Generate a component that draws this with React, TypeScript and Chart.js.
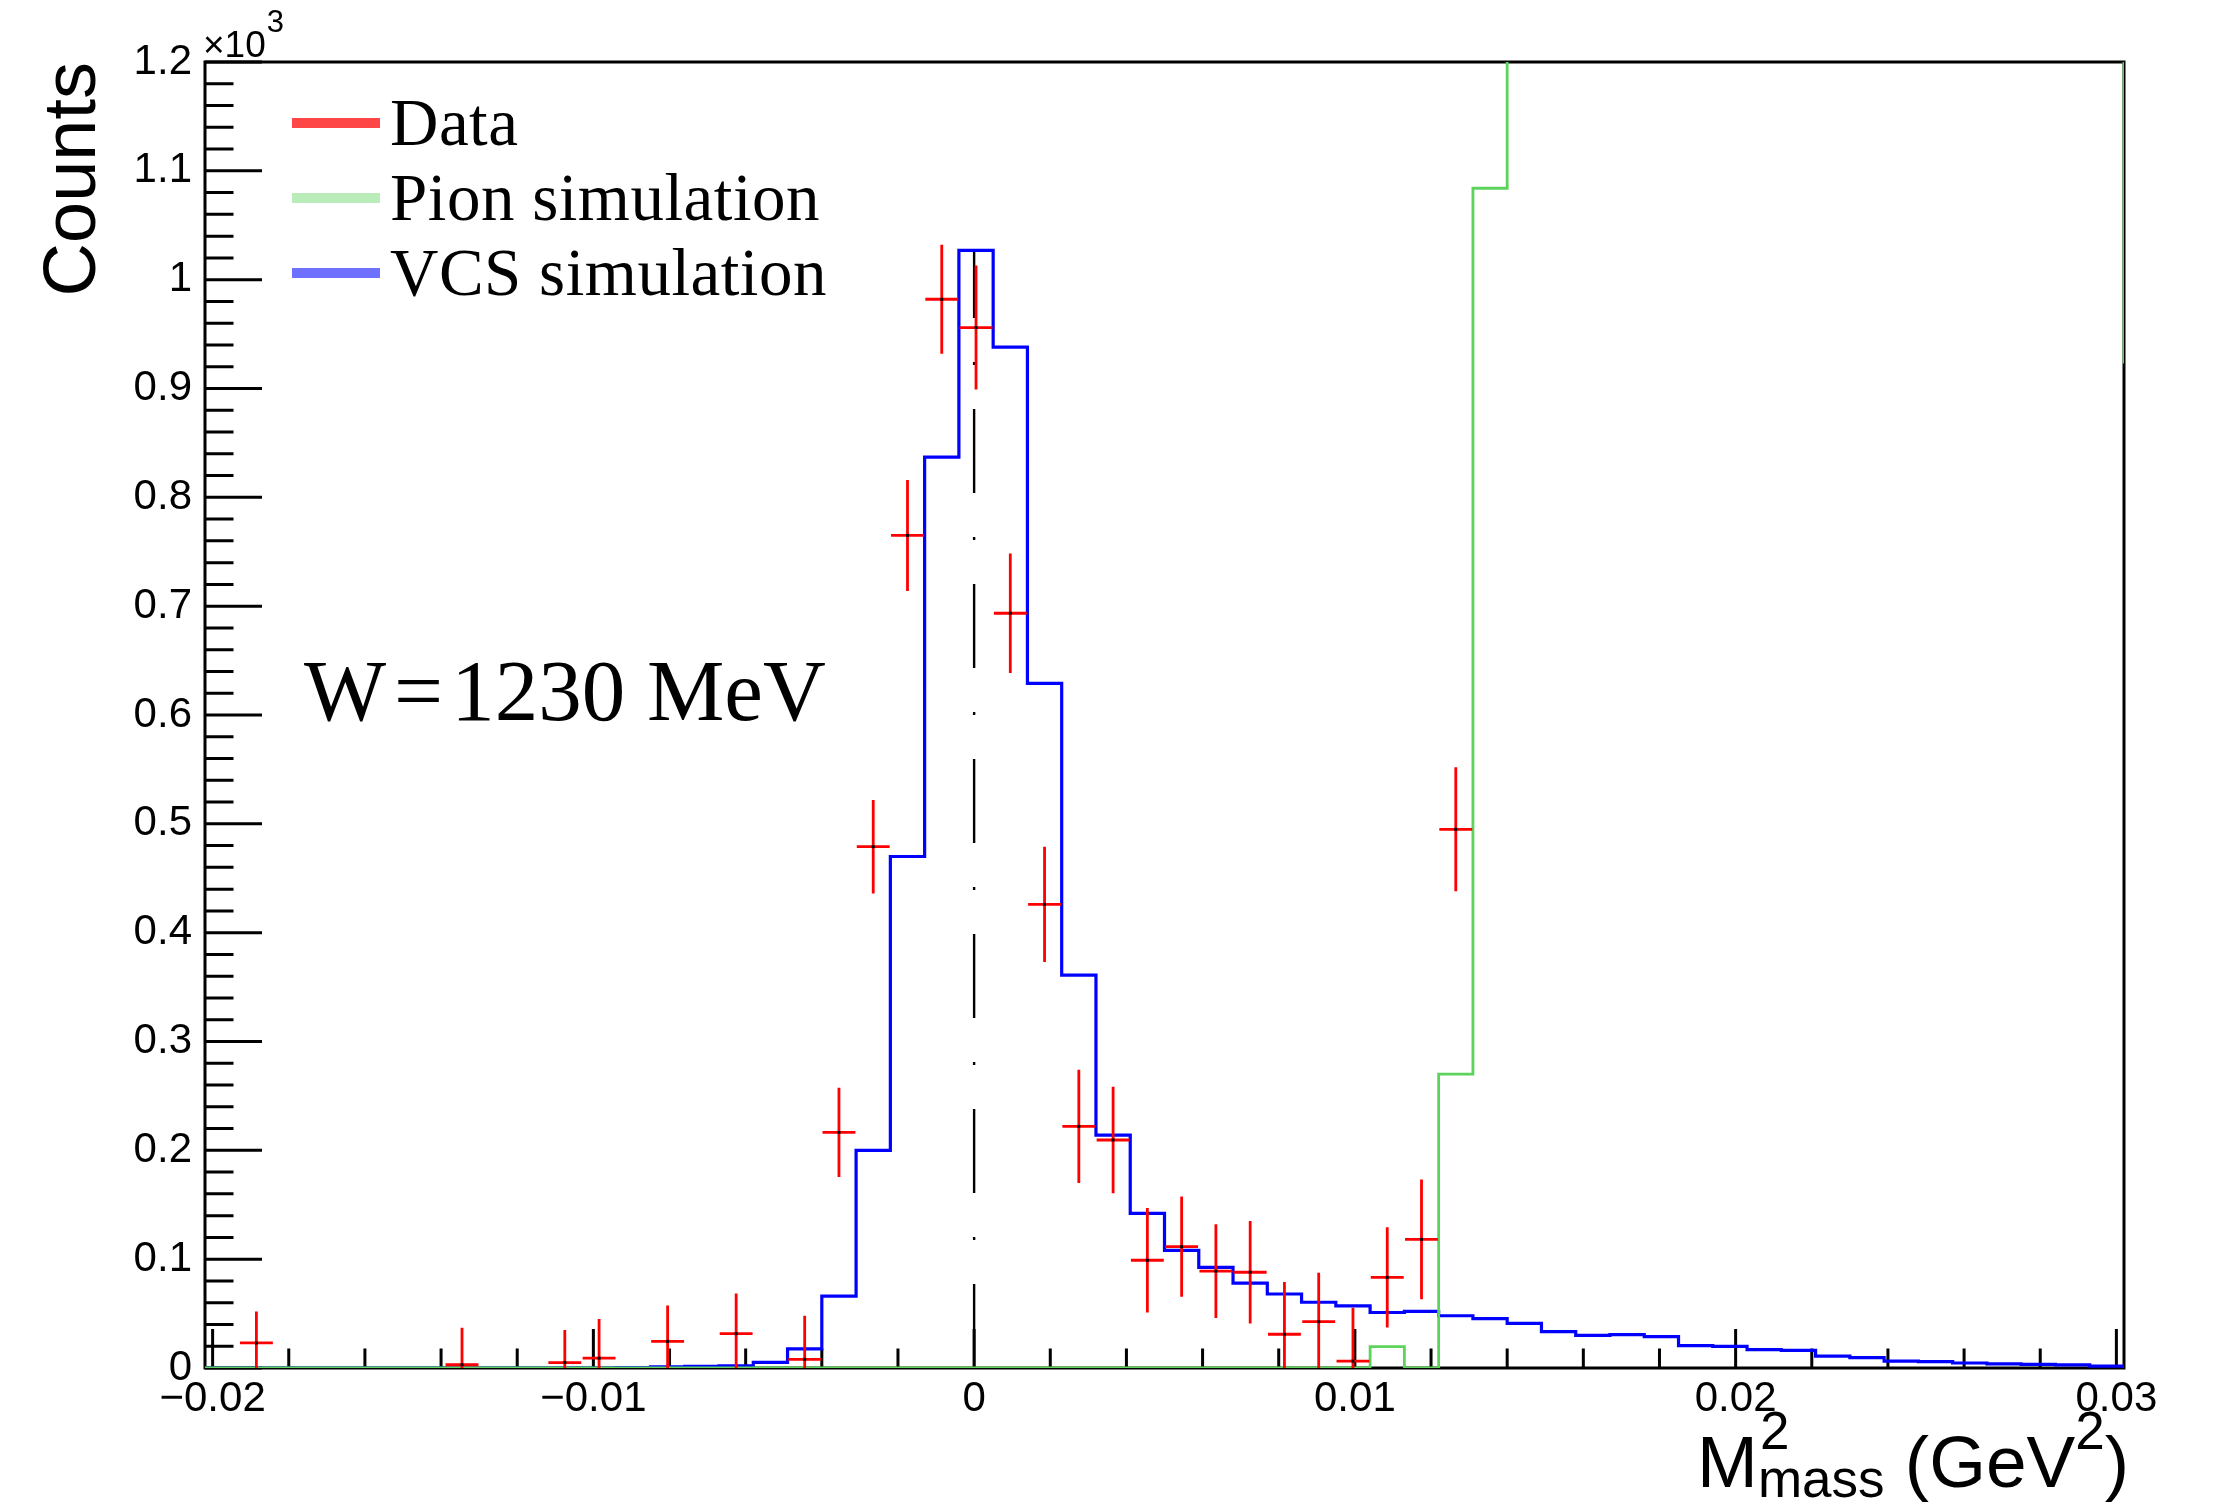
import React, { useEffect, useRef } from "react";
import { Chart, registerables } from "chart.js";

Chart.register(...registerables);

// ---------- axis ranges / binning ----------
const X_MIN = -0.0202;
const X_MAX = 0.0302;
const BIN_WIDTH = 0.0009;
const N_BINS = 56;
const Y_MIN = 0;
const Y_MAX = 1.2;

// tick labels
const xTickLabels = [-0.02, -0.01, 0, 0.01, 0.02, 0.03];
const yTickLabels = [0, 0.1, 0.2, 0.3, 0.4, 0.5, 0.6, 0.7, 0.8, 0.9, 1.0, 1.1, 1.2];

// ---------- VCS simulation (blue), counts x10^3 per bin ----------
const vcsCounts = [
  0, 0, 0, 0, 0, 0, 0, 0, 0, 0, 0, 0,
  0.0003, 0.001, 0.0015, 0.002, 0.0052, 0.0175, 0.066, 0.2,
  0.47, 0.837, 1.027, 0.938, 0.629, 0.361, 0.214, 0.142,
  0.108, 0.0925, 0.078, 0.068, 0.0604, 0.057, 0.051, 0.052,
  0.048, 0.0453, 0.041, 0.0334, 0.03, 0.0306, 0.0288, 0.0205,
  0.0199, 0.0168, 0.0162, 0.011, 0.0095, 0.0064, 0.0058, 0.0046,
  0.0037, 0.0034, 0.0028, 0.0018,
];

// ---------- Pion simulation (green), counts x10^3 per bin (bins 38+ are off scale, estimated) ----------
const pionCounts = [
  0, 0, 0, 0, 0, 0, 0, 0, 0, 0, 0, 0, 0, 0, 0, 0, 0,
  0, 0, 0, 0, 0, 0, 0, 0, 0, 0, 0, 0, 0, 0, 0, 0, 0,
  0.0196, 0, 0.27, 1.084,
  1.9, 2.8, 3.6, 4.2, 4.6, 4.8, 4.7, 4.5, 4.2, 3.9, 3.6, 3.3, 3.0, 2.7, 2.5, 2.3, 2.1, 1.9,
];
const pionEndDrop = 0.923;

// ---------- Data (red) ----------
const dataX = [
  -0.01885, -0.01345, -0.01075, -0.00985, -0.00805, -0.00625, -0.00445, -0.00355,
  -0.00265, -0.00175, -0.00085, 0.00005, 0.00095, 0.00185, 0.00275, 0.00365,
  0.00455, 0.00545, 0.00635, 0.00725, 0.00815, 0.00905, 0.00995, 0.01085,
  0.01175, 0.01265,
];
const dataCounts = [
  0.023, 0.003, 0.005, 0.009, 0.0245, 0.0315, 0.008, 0.2165,
  0.479, 0.765, 0.982, 0.956, 0.6935, 0.426, 0.222, 0.2095,
  0.099, 0.1115, 0.089, 0.088, 0.031, 0.0426, 0.0064, 0.0833,
  0.1182, 0.495,
];
const dataErrors = [
  0.029, 0.034, 0.03, 0.036, 0.033, 0.037, 0.04, 0.041,
  0.043, 0.051, 0.05, 0.057, 0.055, 0.053, 0.052, 0.049,
  0.048, 0.046, 0.043, 0.047, 0.048, 0.045, 0.049, 0.046,
  0.055, 0.057,
];

const legendEntries = [
  { label: "Data", color: "rgb(255,70,70)" },
  { label: "Pion simulation", color: "rgb(186,236,186)" },
  { label: "VCS simulation", color: "rgb(112,112,255)" },
];
const annotationParts = ["W", "=", "1230 MeV"];
const yTitle = "Counts";

const RED = "#ff0000";
const BLUE = "#0000ff";
const GREEN = "rgb(92,212,92)";
const SANS = '"Liberation Sans", Arial, Helvetica, sans-serif';
const SERIF = '"Liberation Serif", "Times New Roman", serif';

const binEdges = Array.from({ length: N_BINS + 1 }, (_, i) => X_MIN + i * BIN_WIDTH);

function stepPoints(counts: number[], endValue: number) {
  const pts = counts.map((c, i) => ({ x: binEdges[i], y: c }));
  pts.push({ x: binEdges[N_BINS], y: endValue });
  return pts;
}

function errorBarPoints() {
  const hw = BIN_WIDTH * 0.48;
  const pts: { x: number; y: number | null }[] = [];
  dataX.forEach((cx, i) => {
    const v = dataCounts[i];
    const e = dataErrors[i];
    pts.push({ x: cx - hw, y: v }, { x: cx + hw, y: v }, { x: cx, y: null });
    pts.push({ x: cx, y: v - e }, { x: cx, y: v + e }, { x: cx, y: null });
  });
  return pts;
}

function fmtX(v: number) {
  if (Math.abs(v) < 1e-12) return "0";
  return (v < 0 ? "\u2212" : "") + Math.abs(v).toFixed(2);
}
function fmtY(v: number) {
  return String(Number(v.toFixed(1)));
}

const rootStylePlugin = {
  id: "rootStyle",
  beforeDatasetsDraw(chart: any) {
    const { ctx, chartArea: a, scales } = chart;
    const x = scales.x;
    const y = scales.y;
    ctx.save();
    ctx.strokeStyle = "#000";
    ctx.lineWidth = 3;
    ctx.beginPath();
    // y ticks (major 0.1, minor 0.02), drawn inward
    for (let i = 0; i <= 60; i++) {
      const py = y.getPixelForValue(i * 0.02);
      const len = i % 5 === 0 ? 57 : 28.5;
      ctx.moveTo(a.left, py);
      ctx.lineTo(a.left + len, py);
    }
    // x ticks (major 0.01, minor 0.002), drawn inward
    for (let i = 0; i <= 25; i++) {
      const px = x.getPixelForValue(-0.02 + i * 0.002);
      const len = i % 5 === 0 ? 39 : 19.5;
      ctx.moveTo(px, a.bottom);
      ctx.lineTo(px, a.bottom - len);
    }
    ctx.stroke();
    ctx.strokeRect(a.left, a.top, a.right - a.left, a.bottom - a.top);
    ctx.restore();
  },
  afterDraw(chart: any) {
    const { ctx, chartArea: a } = chart;
    ctx.save();
    ctx.fillStyle = "#000";
    ctx.textBaseline = "alphabetic";

    // x10^3 multiplier
    ctx.textAlign = "left";
    ctx.font = `37px ${SANS}`;
    const w10 = ctx.measureText("\u00d710").width;
    ctx.fillText("\u00d710", a.left - 2, 57);
    ctx.font = `31px ${SANS}`;
    ctx.fillText("3", a.left - 2 + w10 + 1, 32);

    // y title (rotated)
    ctx.save();
    ctx.translate(95, 62);
    ctx.rotate(-Math.PI / 2);
    ctx.textAlign = "right";
    ctx.font = `74px ${SANS}`;
    ctx.fillText(yTitle, 0, 0);
    ctx.restore();

    // x title: M^2_mass (GeV^2), right aligned at the axis end
    const big = `73px ${SANS}`;
    const small = `53px ${SANS}`;
    ctx.font = big;
    const wM = ctx.measureText("M").width;
    const wOpen = ctx.measureText(" (GeV").width;
    const wClose = ctx.measureText(")").width;
    ctx.font = small;
    const wMass = ctx.measureText("mass").width;
    const w2 = ctx.measureText("2").width;
    const total = wM + wMass + wOpen + w2 + wClose;
    let cx = a.right + 5 - total;
    const base = 1487;
    ctx.font = big;
    ctx.fillText("M", cx, base);
    cx += wM;
    ctx.font = small;
    ctx.fillText("2", cx + 2, base - 38);
    ctx.fillText("mass", cx, base + 10);
    cx += wMass;
    ctx.font = big;
    ctx.fillText(" (GeV", cx, base);
    cx += wOpen;
    ctx.font = small;
    ctx.fillText("2", cx, base - 38);
    cx += w2;
    ctx.font = big;
    ctx.fillText(")", cx, base);

    // annotation "W = 1230 MeV"
    ctx.font = `87px ${SERIF}`;
    let ax = 304;
    annotationParts.forEach((p, i) => {
      ctx.fillText(p, ax, 720);
      ax += ctx.measureText(p).width + (i < 2 ? 8 : 0);
    });

    // legend
    const rowBase = [145, 220, 295];
    legendEntries.forEach((e, i) => {
      ctx.strokeStyle = e.color;
      ctx.lineWidth = 10;
      ctx.beginPath();
      const ly = rowBase[i] - 22;
      ctx.moveTo(292, ly);
      ctx.lineTo(380, ly);
      ctx.stroke();
      ctx.font = `67px ${SERIF}`;
      (ctx as any).letterSpacing = "0.5px";
      ctx.fillStyle = "#000";
      ctx.fillText(e.label, 390, rowBase[i]);
      (ctx as any).letterSpacing = "0px";
    });
    ctx.restore();
  },
};

export default function App() {
  const canvasRef = useRef<HTMLCanvasElement | null>(null);

  useEffect(() => {
    const canvas = canvasRef.current;
    if (!canvas) return;
    const peak = Math.max(...vcsCounts);
    const chart = new Chart(canvas, {
      type: "line",
      data: {
        datasets: [
          {
            label: "Data markers",
            data: dataX.map((x, i) => ({ x, y: dataCounts[i] })),
            showLine: false,
            pointStyle: "rect",
            pointRadius: 2.1,
            pointBorderWidth: 0,
            pointBackgroundColor: "#000",
          },
          {
            label: "Data",
            data: errorBarPoints(),
            borderColor: RED,
            borderWidth: 2.8,
            pointRadius: 0,
            spanGaps: false,
            tension: 0,
          },
          {
            label: "Pion simulation",
            data: stepPoints(pionCounts, pionEndDrop),
            borderColor: GREEN,
            borderWidth: 2.8,
            pointRadius: 0,
            stepped: "before",
            fill: false,
          },
          {
            label: "VCS simulation",
            data: stepPoints(vcsCounts, 0),
            borderColor: BLUE,
            borderWidth: 3.2,
            pointRadius: 0,
            stepped: "before",
            fill: false,
          },
          {
            label: "zero",
            data: [
              { x: 0, y: 0 },
              { x: 0, y: peak },
            ],
            borderColor: "#000",
            borderWidth: 2.4,
            borderDash: [84, 44, 3, 44],
            pointRadius: 0,
          },
        ],
      } as any,
      options: {
        animation: false,
        responsive: false,
        devicePixelRatio: 1,
        events: [],
        layout: { padding: { left: 0, top: 62, right: 95, bottom: 0 } },
        plugins: {
          legend: { display: false },
          tooltip: { enabled: false },
          title: { display: false },
        },
        scales: {
          x: {
            type: "linear",
            min: X_MIN,
            max: X_MAX,
            grid: { display: false, drawTicks: false },
            border: { display: false },
            ticks: {
              color: "#000",
              font: { family: SANS, size: 42 },
              padding: 6,
              autoSkip: false,
              maxRotation: 0,
              minRotation: 0,
              callback: (v: any) => fmtX(Number(v)),
            },
            afterBuildTicks: (s: any) => {
              s.ticks = xTickLabels.map((v) => ({ value: v }));
            },
            afterFit: (s: any) => {
              s.height = 142;
            },
          },
          y: {
            type: "linear",
            min: Y_MIN,
            max: Y_MAX,
            grid: { display: false, drawTicks: false },
            border: { display: false },
            ticks: {
              color: "#000",
              font: { family: SANS, size: 42 },
              padding: 13,
              autoSkip: false,
              callback: (v: any) => fmtY(Number(v)),
            },
            afterBuildTicks: (s: any) => {
              s.ticks = yTickLabels.map((v) => ({ value: v }));
            },
            afterFit: (s: any) => {
              s.width = 205;
            },
          },
        },
      } as any,
      plugins: [rootStylePlugin as any],
    });
    return () => chart.destroy();
  }, []);

  return (
    <div
      style={{
        position: "fixed",
        left: 0,
        top: 0,
        width: 2219,
        height: 1510,
        background: "#ffffff",
      }}
    >
      <canvas
        ref={canvasRef}
        width={2219}
        height={1510}
        style={{ display: "block", width: 2219, height: 1510 }}
      />
    </div>
  );
}
